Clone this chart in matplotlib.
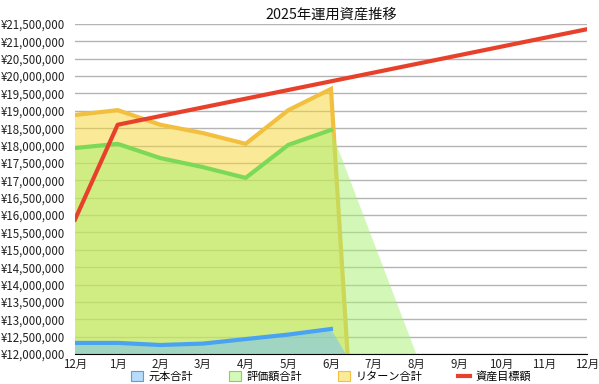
import matplotlib.pyplot as plt
from matplotlib.patches import Patch
from matplotlib.lines import Line2D
from matplotlib.ticker import FuncFormatter, MultipleLocator
import numpy as np

plt.rcParams['font.family'] = ['Noto Sans CJK JP', 'DejaVu Sans']

months = ["12月", "1月", "2月", "3月", "4月", "5月", "6月",
          "7月", "8月", "9月", "10月", "11月", "12月"]

# 12月 .. 7月 (7月 is 0 = no data yet)
principal = [12320000, 12320000, 12260000, 12300000, 12430000, 12560000, 12720000, 0]
valuation = [17930000, 18050000, 17640000, 17380000, 17070000, 18020000, 18450000, 0]
returns = [18880000, 19020000, 18600000, 18360000, 18050000, 19020000, 19630000, 0]
target = [15870000, 18600000, 18850000, 19100000, 19350000, 19600000, 19850000,
          20100000, 20350000, 20600000, 20850000, 21100000, 21350000]

ymin, ymax = 12000000, 21500000

fig = plt.figure(figsize=(5.99, 3.84), dpi=100)
ax = fig.add_axes([0.1252, 0.0781, 0.8547, 0.8594])

x_all = np.arange(len(months))
n = len(returns)
xr = x_all[:n]

# fills
ax.fill_between(xr, returns, 0, color="#f7d731", alpha=0.5, lw=0, zorder=1)
ax.plot(xr, returns, color="#f2bf3f", lw=3, zorder=2, solid_joinstyle="miter")

# valuation fill trails off to the floor at 8月
xv = list(xr[:7]) + [8]
yv = valuation[:7] + [ymin]
ax.fill_between(xv, yv, 0, color="#a8f070", alpha=0.5, lw=0, zorder=3)

# principal fill ends where the valuation line leaves the axis floor
x_cross = 6 + (valuation[6] - ymin) / (valuation[6] - valuation[7])
xp = list(xr[:7]) + [x_cross]
yp = principal[:7] + [ymin]
ax.fill_between(xp, yp, 0, color="#72c0ff", alpha=0.5, lw=0, zorder=4)

ax.plot(xr[:7], valuation[:7], color="#7cd957", lw=3, zorder=5)
ax.plot(xr[:7], principal[:7], color="#4aa3f2", lw=3, zorder=5)
ax.plot(x_all, target, color="#e8412b", lw=3, zorder=6)

ax.set_xlim(0, 12)
ax.set_ylim(ymin, ymax)
ax.yaxis.set_major_locator(MultipleLocator(500000))
ax.yaxis.set_major_formatter(FuncFormatter(lambda v, p: f"¥{int(v):,}"))
ax.set_xticks(x_all)
ax.set_xticklabels(months)
ax.tick_params(axis="both", length=0, labelsize=8.3, colors="#222222")
ax.tick_params(axis="y", pad=7)
ax.tick_params(axis="x", pad=3)
ax.grid(axis="y", color="#b4b4b4", lw=1, zorder=0.5)
ax.set_axisbelow(True)
for s in ["top", "right", "left"]:
    ax.spines[s].set_visible(False)
ax.spines["bottom"].set_color("black")
ax.spines["bottom"].set_zorder(7)

ax.set_title("2025年運用資産推移", fontsize=10.3, color="#111111", pad=4)

handles = [
    Patch(facecolor="#b8dcfa", edgecolor="#4aa3f2", lw=0.8),
    Patch(facecolor="#d4f9b8", edgecolor="#7cd957", lw=0.8),
    Patch(facecolor="#fbeb98", edgecolor="#f2bf3f", lw=0.8),
    Line2D([], [], color="#e8412b", lw=3),
]
labels = ["元本合計", "評価額合計", "リターン合計", "資産目標額"]
ax.legend(handles, labels, loc="center", bbox_to_anchor=(0.5, -0.068), ncol=4,
          frameon=False, fontsize=8.0, handlelength=1.1, handleheight=0.9,
          columnspacing=3.2, handletextpad=0.5, borderaxespad=0, borderpad=0.1)

fig.savefig("out.png", dpi=100)
